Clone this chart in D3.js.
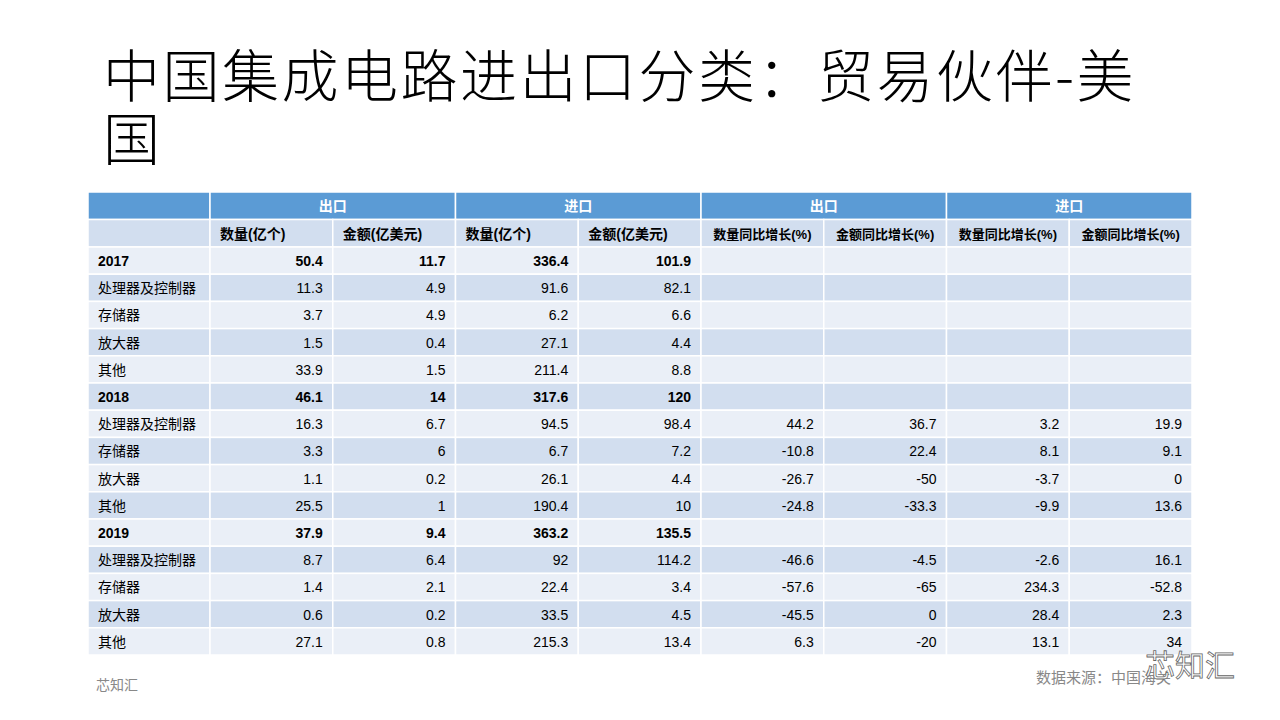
<!DOCTYPE html>
<html><head><meta charset="utf-8">
<script src="https://cdn.jsdelivr.net/npm/d3@7"></script>
<style>body{margin:0;background:#fff;font-family:"Liberation Sans","Noto Sans CJK SC",sans-serif}</style>
</head><body><svg id="c" width="1280" height="720"></svg>
<script>
const groupHeaders=["出口","进口","出口","进口"];
const columns=["数量(亿个)","金额(亿美元)","数量(亿个)","金额(亿美元)","数量同比增长(%)","金额同比增长(%)","数量同比增长(%)","金额同比增长(%)"];
const rowLabels=["2017","处理器及控制器","存储器","放大器","其他","2018","处理器及控制器","存储器","放大器","其他","2019","处理器及控制器","存储器","放大器","其他"];
const boldRows=["2017","2018","2019"];
const exportQty=[50.4,11.3,3.7,1.5,33.9,46.1,16.3,3.3,1.1,25.5,37.9,8.7,1.4,0.6,27.1];
const exportVal=[11.7,4.9,4.9,0.4,1.5,14,6.7,6,0.2,1,9.4,6.4,2.1,0.2,0.8];
const importQty=[336.4,91.6,6.2,27.1,211.4,317.6,94.5,6.7,26.1,190.4,363.2,92,22.4,33.5,215.3];
const importVal=[101.9,82.1,6.6,4.4,8.8,120,98.4,7.2,4.4,10,135.5,114.2,3.4,4.5,13.4];
const expQtyYoY=[null,null,null,null,null,null,44.2,-10.8,-26.7,-24.8,null,-46.6,-57.6,-45.5,6.3];
const expValYoY=[null,null,null,null,null,null,36.7,22.4,-50,-33.3,null,-4.5,-65,0,-20];
const impQtyYoY=[null,null,null,null,null,null,3.2,8.1,-3.7,-9.9,null,-2.6,234.3,28.4,13.1];
const impValYoY=[null,null,null,null,null,null,19.9,9.1,0,13.6,null,16.1,-52.8,2.3,34];
const series=[exportQty,exportVal,importQty,importVal,expQtyYoY,expValYoY,impQtyYoY,impValYoY];

const svg=d3.select("#c");
svg.append("text").attr("x",103).attr("y",97).attr("font-size",57).attr("letter-spacing",2.5).attr("fill","#000")
 .attr("font-family","Noto Sans CJK SC").attr("font-weight",300).text("中国集成电路进出口分类：贸易伙伴-美");
svg.append("text").attr("x",103).attr("y",160).attr("font-size",57).attr("fill","#000")
 .attr("font-family","Noto Sans CJK SC").attr("font-weight",300).text("国");

const x=d3.scaleLinear().domain([0,8]).range([210,1192]);
const x0=88;
const topY=192,hh=27.5;
const y=d3.scaleLinear().domain([0,15]).range([247,655]);
const rh=y(1)-y(0);
const dark="#D2DEEF",light="#EAEFF7",blue="#5B9BD5";
const stroke="#fff";
svg.append("rect").attr("x",x0).attr("y",topY).attr("width",x(0)-x0).attr("height",hh).attr("fill",blue).attr("stroke",stroke).attr("stroke-width",1.5);
groupHeaders.forEach((g,i)=>{
 svg.append("rect").attr("x",x(i*2)).attr("y",topY).attr("width",x(2)-x(0)).attr("height",hh).attr("fill",blue).attr("stroke",stroke).attr("stroke-width",1.5);
 svg.append("text").attr("x",(x(i*2)+x(i*2+2))/2).attr("y",topY+19).attr("text-anchor","middle").attr("fill","#fff").attr("font-weight","bold").attr("font-size",14).text(g);
});
svg.append("rect").attr("x",x0).attr("y",topY+hh).attr("width",x(0)-x0).attr("height",y(0)-topY-hh).attr("fill",dark).attr("stroke",stroke).attr("stroke-width",1.5);
columns.forEach((c,i)=>{
 svg.append("rect").attr("x",x(i)).attr("y",topY+hh).attr("width",x(1)-x(0)).attr("height",y(0)-topY-hh).attr("fill",dark).attr("stroke",stroke).attr("stroke-width",1.5);
 svg.append("text").attr("x",i<4?x(i)+10:(x(i)+x(i+1))/2).attr("y",topY+hh+19).attr("text-anchor",i<4?"start":"middle").attr("fill","#000").attr("font-weight","bold").attr("font-size",i<4?14:13).text(c);
});
rowLabels.forEach((r,ri)=>{
 const f=ri%2===0?light:dark;
 const b=boldRows.includes(r);
 svg.append("rect").attr("x",x0).attr("y",y(ri)).attr("width",x(0)-x0).attr("height",rh).attr("fill",f).attr("stroke",stroke).attr("stroke-width",1.5);
 svg.append("text").attr("x",x0+10).attr("y",y(ri)+19).attr("font-size",14).attr("font-weight",b?"bold":"normal").attr("fill","#000").text(r);
 series.forEach((s,ci)=>{
  svg.append("rect").attr("x",x(ci)).attr("y",y(ri)).attr("width",x(1)-x(0)).attr("height",rh).attr("fill",f).attr("stroke",stroke).attr("stroke-width",1.5);
  if(s[ri]!==null) svg.append("text").attr("x",x(ci+1)-10).attr("y",y(ri)+19).attr("text-anchor","end").attr("font-size",14).attr("font-weight",b?"bold":"normal").attr("fill","#000").text(s[ri]);
 });
});
svg.append("text").attr("x",96).attr("y",690).attr("font-size",14).attr("fill","#888").attr("font-family","Noto Sans CJK SC").text("芯知汇");
svg.append("text").attr("x",1036).attr("y",683).attr("font-size",15).attr("fill","#888").attr("font-family","Noto Sans CJK SC").text("数据来源：中国海关");
svg.append("text").attr("x",1145).attr("y",676).attr("font-size",30).attr("fill","#fff").attr("stroke","#666").attr("stroke-width",0.8).attr("font-family","Noto Sans CJK SC").text("芯知汇");
</script></body></html>
